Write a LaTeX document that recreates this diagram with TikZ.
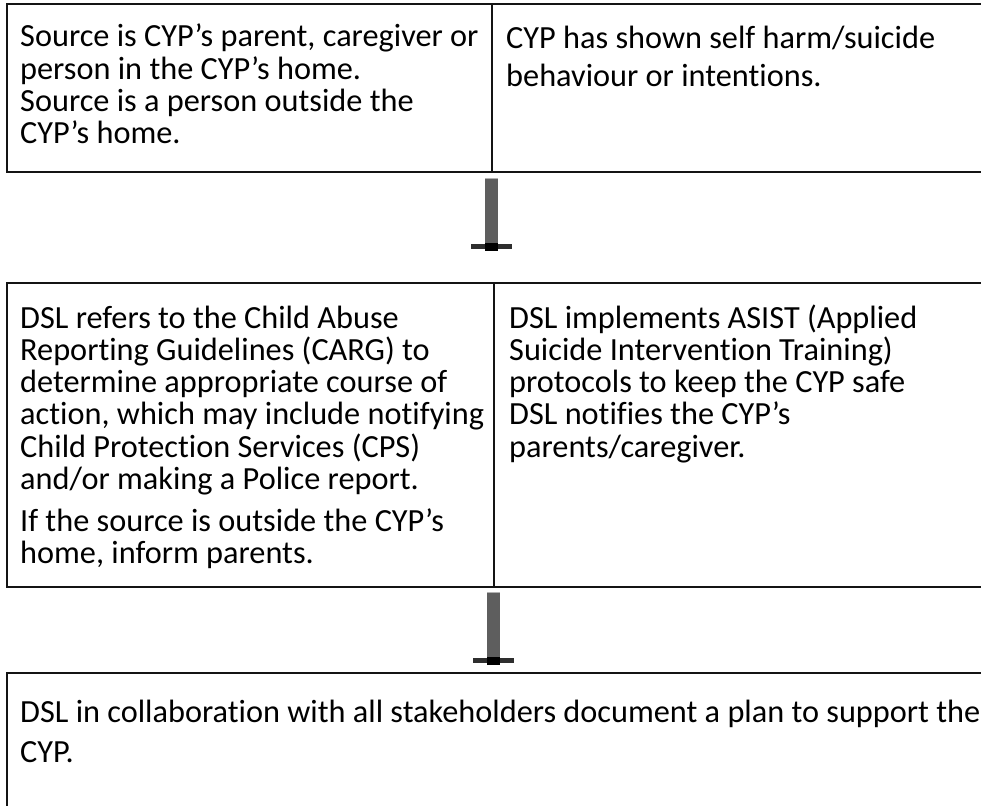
\documentclass[tikz,border=0pt]{standalone}
\usepackage{fontspec}
\setmainfont{Carlito}[Ligatures={NoCommon}]
\begin{document}
\lineskiplimit=-100pt\relax
\begin{tikzpicture}[x=1pt,y=-1pt,
  frame/.style={line width=2pt, draw=black!92},
  txtA/.style={anchor=base west, inner sep=0pt, font=\fontsize{32.3}{32.3}\selectfont},
  txtB/.style={anchor=base west, inner sep=0pt, font=\fontsize{32.3}{38}\selectfont},
  txtC/.style={anchor=base west, inner sep=0pt, font=\fontsize{32.3}{40}\selectfont},
  shaft/.style={line width=13pt, draw=black!63},
  shafttop/.style={line width=1.5pt, draw=black!30},
  teebar/.style={line width=5pt, draw=black!82},
  teemid/.style={line width=8pt, draw=black}]
\useasboundingbox (0,0) rectangle (981,805);
\clip (0,0) rectangle (981,805);
\fill[white] (0,0) rectangle (981,805);

% ---- box 1 ----
\coordinate (b1nw) at (7,4);
\coordinate (b1sw) at (7,172);
\coordinate (b1ne) at (995,4);
\coordinate (b1se) at (995,172);
\coordinate (b1dt) at (492,4);
\coordinate (b1db) at (492,172);
\draw[frame] (b1ne) -- (b1nw) -- (b1sw) -- (b1se);
\draw[frame] (b1dt) -- (b1db);
\node[txtA] (t1l) at (20,47) {\vtop{\hbox{Source is CYP’s parent, caregiver or}\hbox{person in the CYP’s home.}\hbox{Source is a person outside the}\hbox{CYP’s home.}}};
\node[txtB] (t1r) at (506,49) {\vtop{\hbox{CYP has shown self harm/suicide}\hbox{behaviour or intentions.}}};

% ---- arrow 1 ----
\coordinate (a1s) at (491.5,179);
\coordinate (a1e) at (491.5,245);
\coordinate (a1l) at (471,246);
\coordinate (a1r) at (512,246);
\draw[shaft] (a1s) -- (a1e);
\draw[shafttop] (485,178.5) -- (498,178.5);
\draw[teebar] (a1l) -- (a1r);
\draw[teemid] (485,247) -- (498,247);

% ---- box 2 ----
\coordinate (b2nw) at (7,283);
\coordinate (b2sw) at (7,587);
\coordinate (b2ne) at (995,283);
\coordinate (b2se) at (995,587);
\coordinate (b2dt) at (494,283);
\coordinate (b2db) at (494,587);
\draw[frame] (b2ne) -- (b2nw) -- (b2sw) -- (b2se);
\draw[frame] (b2dt) -- (b2db);
\node[txtA] (t2l) at (20,328) {\vtop{\hbox{DSL refers to the Child Abuse}\hbox{Reporting Guidelines (CARG) to}\hbox{determine appropriate course of}\hbox{action, which may include notifying}\hbox{Child Protection Services (CPS)}\hbox{and/or making a Police report.}}};
\node[txtA] (t2l2) at (20,531) {\vtop{\hbox{If the source is outside the CYP’s}\hbox{home, inform parents.}}};
\node[txtA] (t2r) at (509,328) {\vtop{\hbox{DSL implements ASIST (Applied}\hbox{Suicide Intervention Training)}\hbox{protocols to keep the CYP safe}\hbox{DSL notifies the CYP’s}\hbox{parents/caregiver.}}};

% ---- arrow 2 ----
\coordinate (a2s) at (493.5,593);
\coordinate (a2e) at (493.5,659);
\coordinate (a2l) at (473,660);
\coordinate (a2r) at (514,660);
\draw[shaft] (a2s) -- (a2e);
\draw[shafttop] (487,592.5) -- (500,592.5);
\draw[teebar] (a2l) -- (a2r);
\draw[teemid] (487,661) -- (500,661);

% ---- box 3 ----
\coordinate (b3nw) at (7,673);
\coordinate (b3sw) at (7,815);
\coordinate (b3ne) at (995,673);
\draw[frame] (b3ne) -- (b3nw) -- (b3sw);
\node[txtC] (t3) at (20,722) {\vtop{\hbox{DSL in collaboration with all stakeholders document a plan to support the}\hbox{CYP.}}};
\end{tikzpicture}
\end{document}
